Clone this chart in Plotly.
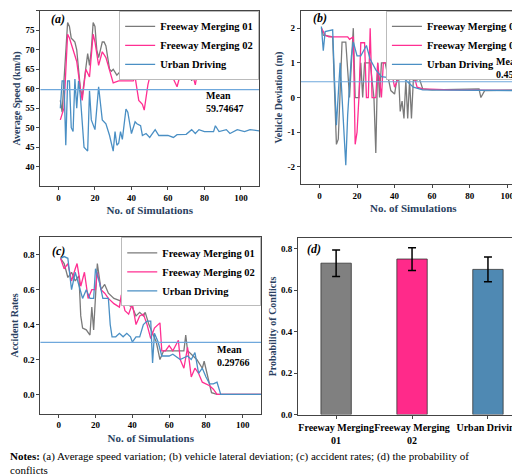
import plotly.graph_objects as go

# Panel (a) average speed
a_fm1_x = [1,2,3,4,5,6,7,8,9,10,11,12,13,14,15,16,17,18,19,20,21,22,23,24,25,26,27,28,29,30,32,34,35,36,40,44,45,50,55,58,60,62,65,68,71,73,75,77,80,85,90,95,100,105,110]
a_fm1_y = [57,54,62,70,77,76,73,72.5,72,70,65,60,58,62,65,69,66,70,77,76,70,68,70,72,72,71,68,65,64.5,65,63.5,64.5,66.5,64.5,64.5,64.5,63.5,65,64.5,66,64.5,63,65.5,64,66,62,66,64,65.5,65.5,65.3,65.5,65.2,65.4,65.2]
a_fm2_x = [1,3,5,6,8,10,12,13,15,17,19,20,22,24,26,28,30,33,41,42,44,46,47,49,51,55,60,65,67,73,75,77,80,85,86,110]
a_fm2_y = [52,55,74,73,70,67,60,57,65,63,74,72,66,69.5,68,65,61.5,62,62,63,57,56,54.5,61,65,65.5,65.5,60.5,64,64.5,61,66.5,65.5,66.5,65.5,65]
a_ud_x = [1,2,3,4,5,6,7,8,9,10,11,12,14,16,17,18,20,22,24,26,28,30,31,32,33,34,35,37,38,40,42,43,45,46,48,50,53,55,60,63,65,70,73,75,77,80,85,86,88,92,94,98,102,105,110]
a_ud_y = [55,62,62,45.5,62,62,50,49,62.5,55,62,58,45,44,59.5,52,49.5,60.5,52,51,48,44,49,45.5,46,49,47,54.8,54,48.5,51.5,51,50.5,48,48.5,47.5,49.5,48,48,47.5,48.2,48.3,49.5,48.5,49.5,49,49,50.5,49,49.5,48.5,49.5,49,49.5,49.2]
a_mean = 59.74647

# Panel (b) vehicle deviation
b_fm1_x = [1,2,7,8,9,10,12,14,16,18,19,21,22,23,24,27,29,30,31,32,33,35,38,40,42,43,44,45,46,47,48,49,50,52,53,55,60,85,86,88,110]
b_fm1_y = [2,1.8,1.75,0,-1.35,-1.2,1.6,1.6,0,2,0,0,1,0,1,1,0,-1.6,1,0,1,1,0.2,0.1,0.8,-0.4,-0.1,-0.6,0.5,-0.6,0.5,-0.6,0.5,0.5,0.58,0.25,0.22,0.25,0,0.2,0.22]
b_fm2_x = [1,3,5,15,16,18,19,20,21,22,24,25,26,27,28,30,31,32,33,34,37,38,40,42,48,51,52,55,70,110]
b_fm2_y = [2,1.8,1.75,1.75,1.68,1.75,-1.35,-1,0,1.58,1.58,0,0,2,0,0,1,0.5,0,1,1,0.85,0.3,0.55,0.62,0.5,0.3,0.25,0.22,0.2]
b_ud_x = [1,2,3,7,8,9,11,12,14,15,17,18,20,22,25,27,30,33,40,45,50,55,110]
b_ud_y = [2.05,1.35,1.9,1.95,0.5,-0.8,1,0,-1.95,-0.5,1.2,1.6,1.2,1.2,1.5,1.1,0.8,0.6,0.55,0.55,0.3,0.22,0.2]
b_mean = 0.4545

# Panel (c) accident rates
c_fm1_x = [1,3,5,7,9,11,12,13,15,17,18,19,21,23,25,27,30,35,40,42,44,46,47,49,51,53,55,57,60,66,68,69,70,75,78,79,82,83,86,110]
c_fm1_y = [0.78,0.75,0.67,0.7,0.65,0.68,0.45,0.38,0.37,0.34,0.5,0.37,0.75,0.6,0.63,0.58,0.55,0.53,0.5,0.45,0.47,0.45,0.47,0.4,0.35,0.3,0.2,0.25,0.25,0.25,0.25,0.34,0.25,0.2,0.15,0.19,0.05,0.01,0,0]
c_fm2_x = [1,3,5,7,9,10,12,14,16,18,20,21,23,25,27,30,33,34,36,38,40,42,44,46,48,50,52,54,55,56,58,60,62,65,66,68,70,72,74,76,78,82,84,86,110]
c_fm2_y = [0.78,0.72,0.75,0.65,0.72,0.75,0.62,0.7,0.55,0.6,0.6,0.7,0.6,0.58,0.55,0.52,0.5,0.57,0.48,0.46,0.52,0.4,0.45,0.46,0.4,0.32,0.38,0.4,0.41,0.25,0.25,0.28,0.25,0.31,0.2,0.15,0.27,0.1,0.15,0.12,0.07,0.05,0.03,0,0]
c_ud_x = [1,3,5,7,9,11,13,15,17,19,20,22,24,27,28,29,31,33,35,37,39,40,42,44,46,48,50,51,52,54,56,60,62,66,70,72,74,76,78,80,82,84,86,88,110]
c_ud_y = [0.78,0.79,0.78,0.6,0.7,0.62,0.55,0.6,0.55,0.55,0.72,0.65,0.55,0.55,0.4,0.33,0.33,0.35,0.33,0.35,0.33,0.3,0.33,0.33,0.4,0.42,0.42,0.18,0.35,0.3,0.22,0.22,0.23,0.2,0.22,0.2,0.24,0.12,0.15,0.1,0.06,0.06,0.07,0,0]
c_mean = 0.29766

# Panel (d) probability of conflicts
d_cats = ["Freeway Merging<br>01", "Freeway Merging<br>02", "Urban Driving"]
d_vals = [0.73, 0.75, 0.70]
d_err = [0.064, 0.055, 0.06]

names = ["Freeway Merging 01", "Freeway Merging 02", "Urban Driving"]
GRAY, PINK, BLUE = "#7a7a7a", "#ff2f92", "#4a8fc4"
BAR = ["#808080", "#ff2a8a", "#4f89b3"]
FONT = "Liberation Serif"

fig = go.Figure()
panels = [
    ("x", "y", "legend", [(a_fm1_x, a_fm1_y), (a_fm2_x, a_fm2_y), (a_ud_x, a_ud_y)], a_mean),
    ("x2", "y2", "legend2", [(b_fm1_x, b_fm1_y), (b_fm2_x, b_fm2_y), (b_ud_x, b_ud_y)], b_mean),
    ("x3", "y3", "legend3", [(c_fm1_x, c_fm1_y), (c_fm2_x, c_fm2_y), (c_ud_x, c_ud_y)], c_mean),
]
for xa, ya, lg, series, mean in panels:
    for (sx, sy), nm, col in zip(series, names, [GRAY, PINK, BLUE]):
        fig.add_trace(go.Scatter(x=sx, y=sy, mode="lines", name="<b>" + nm + "</b>", line=dict(color=col, width=1.3),
                                 xaxis=xa, yaxis=ya, legend=lg))
    fig.add_trace(go.Scatter(x=[-10, 110], y=[mean, mean], mode="lines", showlegend=False,
                             line=dict(color="#6fa8dc", width=1.2), xaxis=xa, yaxis=ya))

fig.add_trace(go.Bar(x=d_cats, y=d_vals, marker=dict(color=BAR, line=dict(color="#333", width=0.8)),
                     width=0.4, showlegend=False, xaxis="x4", yaxis="y4",
                     error_y=dict(type="data", array=d_err, color="black", thickness=1.5, width=4)))

ax = dict(showline=True, linecolor="#444", linewidth=1, mirror=True, ticks="outside", ticklen=3,
          showgrid=False, zeroline=False, tickfont=dict(family=FONT, size=9, color="black"))
xt = dict(title=dict(text="<b>No. of Simulations</b>", font=dict(family=FONT, size=11), standoff=4),
          range=[-10, 110], tickvals=[0, 20, 40, 60, 80, 100], ticktext=["<b>%d</b>" % v for v in [0, 20, 40, 60, 80, 100]])
def yt(title, vals, fmt, rng):
    return dict(title=dict(text="<b>%s</b>" % title, font=dict(family=FONT, size=10), standoff=2),
                range=rng, tickvals=vals, ticktext=["<b>" + fmt.format(v) + "</b>" for v in vals])

fig.update_layout(
    width=520, height=475, margin=dict(l=0, r=0, t=0, b=0), plot_bgcolor="white", paper_bgcolor="white",
    xaxis=dict(**ax, **xt, domain=[0.062, 0.483], anchor="y"),
    yaxis=dict(**ax, **yt("Average Speed (km/h)", [40,45,50,55,60,65,70,75,80], "{}", [35, 80]), domain=[0.621, 0.994], anchor="x"),
    xaxis2=dict(**ax, **xt, domain=[0.563, 0.996], anchor="y2"),
    yaxis2=dict(**ax, **yt("Vehicle Deviation (m)", [-2,-1,0,1,2], "{:g}", [-2.5, 2.5]), domain=[0.625, 0.994], anchor="x2"),
    xaxis3=dict(**ax, **xt, domain=[0.062, 0.487], anchor="y3"),
    yaxis3=dict(**ax, **yt("Accident Rates", [0,0.2,0.4,0.6,0.8], "{:.1f}", [-0.11, 0.9]), domain=[0.137, 0.512], anchor="x3"),
    xaxis4=dict(**ax, domain=[0.558, 0.996], anchor="y4"),
    yaxis4=dict(**ax, **yt("Probability of Conflicts", [0,0.2,0.4,0.6,0.8], "{:.1f}", [0, 0.85]), domain=[0.135, 0.51], anchor="x4"),
)
fig.update_layout(xaxis4_tickfont=dict(family=FONT, size=10, color="black"), xaxis4_tickvals=d_cats,
                  xaxis4_ticktext=["<b>" + c + "</b>" for c in d_cats], xaxis4_tickangle=0)

lgfont = dict(family=FONT, size=10.5, color="black")
lgbase = dict(font=lgfont, bgcolor="white", bordercolor="#bbb", borderwidth=1, xanchor="right", yanchor="top",
              tracegroupgap=0, itemwidth=30)
fig.update_layout(
    legend=dict(**lgbase, x=0.483, y=0.994),
    legend2=dict(**lgbase, x=0.996, y=0.994),
    legend3=dict(**lgbase, x=0.487, y=0.512),
)

anns = [
    ("x", "y", 0, 78, "<b><i>(a)</i></b>"), ("x2", "y2", 0, 2.3, "<b><i>(b)</i></b>"),
    ("x3", "y3", 0, 0.82, "<b><i>(c)</i></b>"), ("x4 domain", "y4", 0.07, 0.8, "<b><i>(d)</i></b>"),
]
for xr, yr, xv, yv, t in anns:
    fig.add_annotation(xref=xr, yref=yr, x=xv, y=yv, text=t, showarrow=False, xanchor="center",
                       font=dict(family=FONT, size=12, color="black"))
fig.add_annotation(xref="x", yref="y", x=80, y=56.5, text="<b>Mean<br>59.74647</b>", showarrow=False,
                   align="left", xanchor="left", font=dict(family=FONT, size=10, color="black"))
fig.add_annotation(xref="x2", yref="y2", x=93, y=0.85, text="<b>Mean<br>0.4545</b>", showarrow=False,
                   align="left", xanchor="left", font=dict(family=FONT, size=10, color="black"))
fig.add_annotation(xref="x3", yref="y3", x=85, y=0.22, text="<b>Mean<br>0.29766</b>", showarrow=False,
                   align="left", xanchor="left", font=dict(family=FONT, size=10, color="black"))
fig.add_annotation(xref="paper", yref="paper", x=0.0, y=0.0, xanchor="left", yanchor="bottom", showarrow=False,
                   align="left", font=dict(family=FONT, size=11, color="black"),
                   text="<b>Notes:</b> (a) Average speed variation; (b) vehicle lateral deviation; (c) accident rates; (d) the probability of<br>conflicts")

fig.write_html("out.html")
